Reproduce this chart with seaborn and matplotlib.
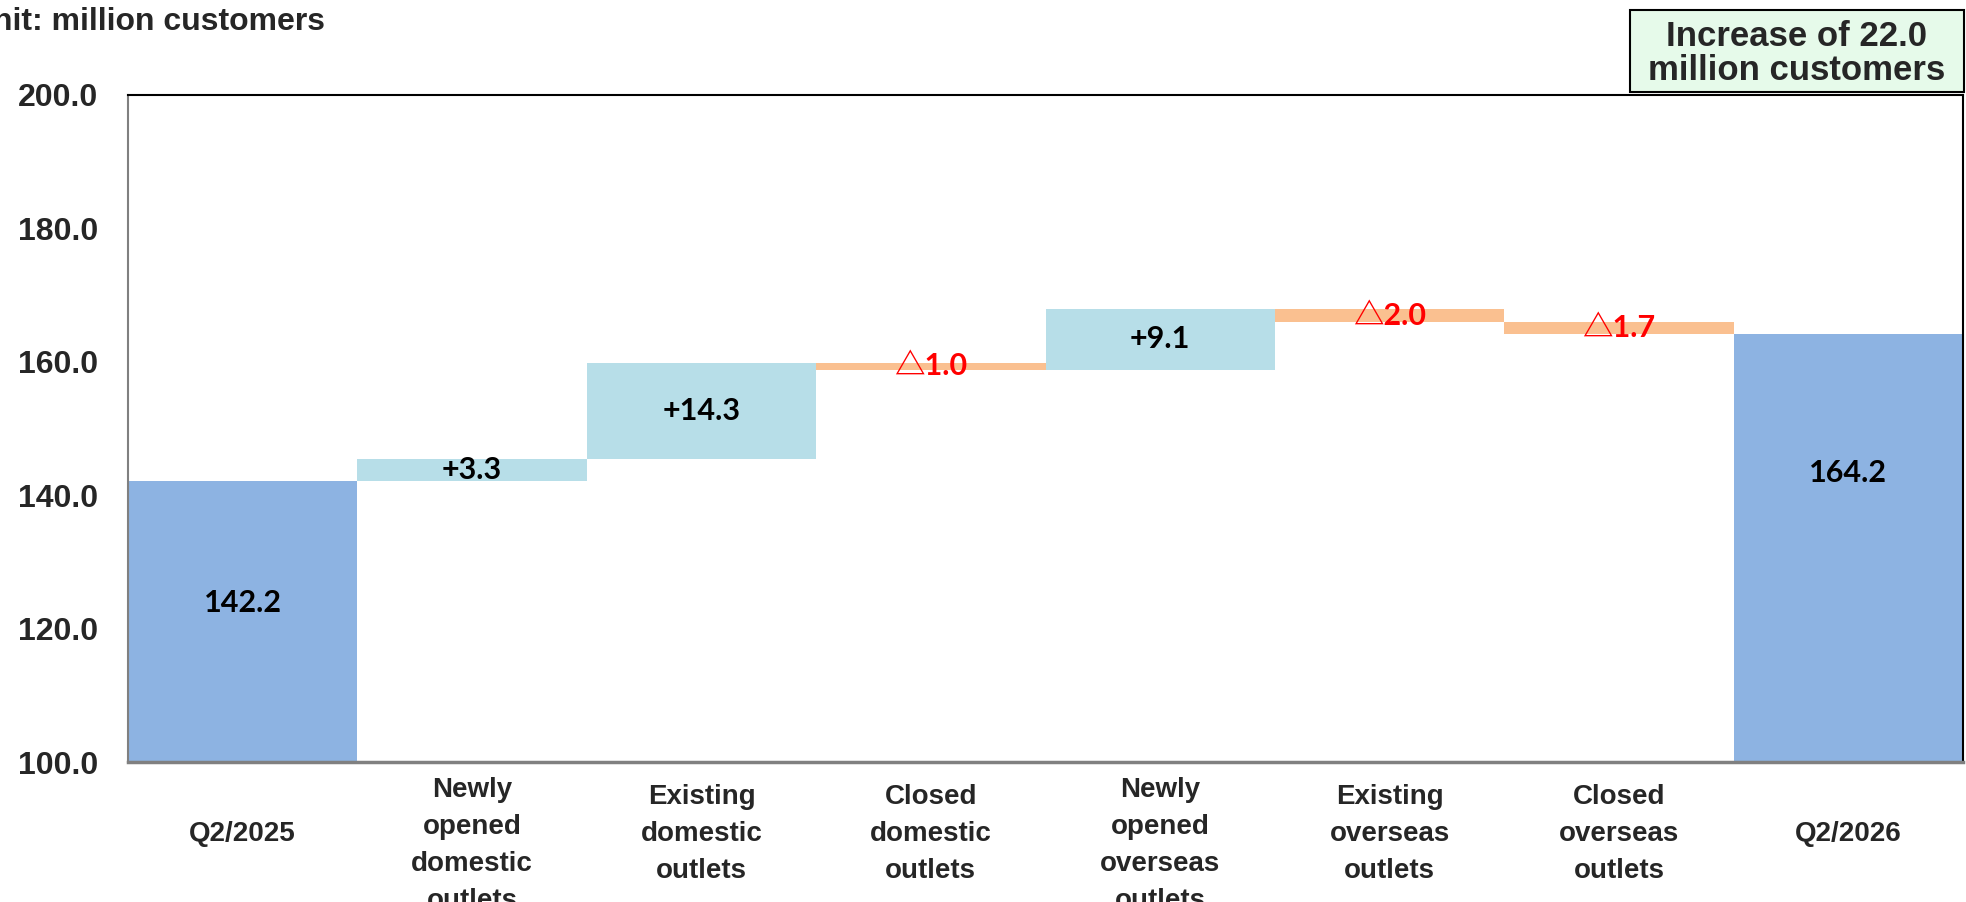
import matplotlib
matplotlib.use('Agg')

import matplotlib.pyplot as plt
import matplotlib.patches as mpatches
import matplotlib.transforms as mtransforms
import seaborn as sns
import numpy as np

categories = [
    "Q2/2025",
    "Newly\nopened\ndomestic\noutlets",
    "Existing\ndomestic\noutlets",
    "Closed\ndomestic\noutlets",
    "Newly\nopened\noverseas\noutlets",
    "Existing\noverseas\noutlets",
    "Closed\noverseas\noutlets",
    "Q2/2026",
]
changes = [142.2, 3.3, 14.3, -1.0, 9.1, -2.0, -1.7, 164.2]
kinds = ["total", "up", "up", "down", "up", "down", "down", "total"]
value_labels = ["142.2", "+3.3", "+14.3", "△1.0", "+9.1", "△2.0", "△1.7", "164.2"]
y_ticks = [100.0, 120.0, 140.0, 160.0, 180.0, 200.0]

colors = {"total": "#8DB3E2", "up": "#B7DEE8", "down": "#FAC090"}

# waterfall geometry
bottoms, heights = [], []
level = 0.0
for v, k in zip(changes, kinds):
    if k == "total":
        bottoms.append(0.0)
        heights.append(v)
        level = v
    else:
        new = level + v
        bottoms.append(min(level, new))
        heights.append(abs(v))
        level = new

sns.set_style("white")
plt.rcParams['font.family'] = ['Liberation Sans', 'DejaVu Sans']

fig = plt.figure(figsize=(19.66, 9.02), dpi=100)
ax = fig.add_axes([128 / 1966, 1 - 762 / 902, (1963 - 128) / 1966, (762 - 95) / 902])

sns.barplot(x=categories, y=heights, bottom=bottoms, width=1.0, color="#8DB3E2",
            errorbar=None, ax=ax, linewidth=0)
for patch, k in zip(ax.patches, kinds):
    patch.set_facecolor(colors[k])
    patch.set_edgecolor("none")

ax.set_xlim(-0.5, len(categories) - 0.5)
ax.set_ylim(100, 200)
ax.set_yticks(y_ticks)
ax.set_yticklabels([f"{t:.1f}" for t in y_ticks], fontsize=23, fontweight="bold")

ax.set_xticks(range(len(categories)))
ax.set_xticklabels(categories, fontsize=20, fontweight="bold", va="center", linespacing=1.55)
ax.set_xticks(np.arange(0.5, len(categories) - 1, 1.0), minor=True)
ax.tick_params(axis="x", which="major", length=0, pad=52)
ax.tick_params(axis="x", which="minor", length=8, width=1.2, color="#A0A0A0", direction="out")
ax.tick_params(axis="y", length=7.5, width=1.5, color="#808080", direction="out", pad=14)
ax.set_xlabel("")

# four-line labels overflow the bottom and sit a bit lower in the source
shift = mtransforms.ScaledTranslation(0, -11 / 100, fig.dpi_scale_trans)
for lab in ax.get_xticklabels():
    if lab.get_text().count("\n") == 3:
        lab.set_transform(lab.get_transform() + shift)

for side in ["left", "bottom"]:
    ax.spines[side].set_color("#808080")
ax.spines["bottom"].set_linewidth(2.5)
ax.spines["left"].set_linewidth(1.5)
for side in ["top", "right"]:
    ax.spines[side].set_color("black")
    ax.spines[side].set_linewidth(1.5)
    ax.spines[side].set_visible(True)

# value labels (totals sit a little above the middle of the visible bar, as in the source)
total_label_y = {0: 123.8, 7: 143.3}
for i, (b, h, lab, k) in enumerate(zip(bottoms, heights, value_labels, kinds)):
    yc = total_label_y[i] if k == "total" else b + h / 2
    col = "#FF0000" if k == "down" else "black"
    ax.text(i, yc, lab, ha="center", va="center", fontsize=22, fontweight="bold",
            color=col, family=["Lato", "Noto Sans CJK JP", "DejaVu Sans"])

fig.text(-30 / 1966, 1 - 22 / 902, "Unit: million customers", fontsize=23,
         fontweight="bold", ha="left", va="center")

box = mpatches.Rectangle((1630 / 1966, 1 - 92 / 902), (1964 - 1630) / 1966, 82 / 902,
                         transform=fig.transFigure, facecolor="#E6FAEA",
                         edgecolor="black", linewidth=1.5, zorder=5)
fig.patches.append(box)
fig.text(1797 / 1966, 1 - 37 / 902, "Increase of 22.0", fontsize=25,
         fontweight="bold", ha="center", va="center", zorder=6)
fig.text(1797 / 1966, 1 - 71 / 902, "million customers", fontsize=25,
         fontweight="bold", ha="center", va="center", zorder=6)

fig.savefig("out.png", dpi=100)
plt.close(fig)
